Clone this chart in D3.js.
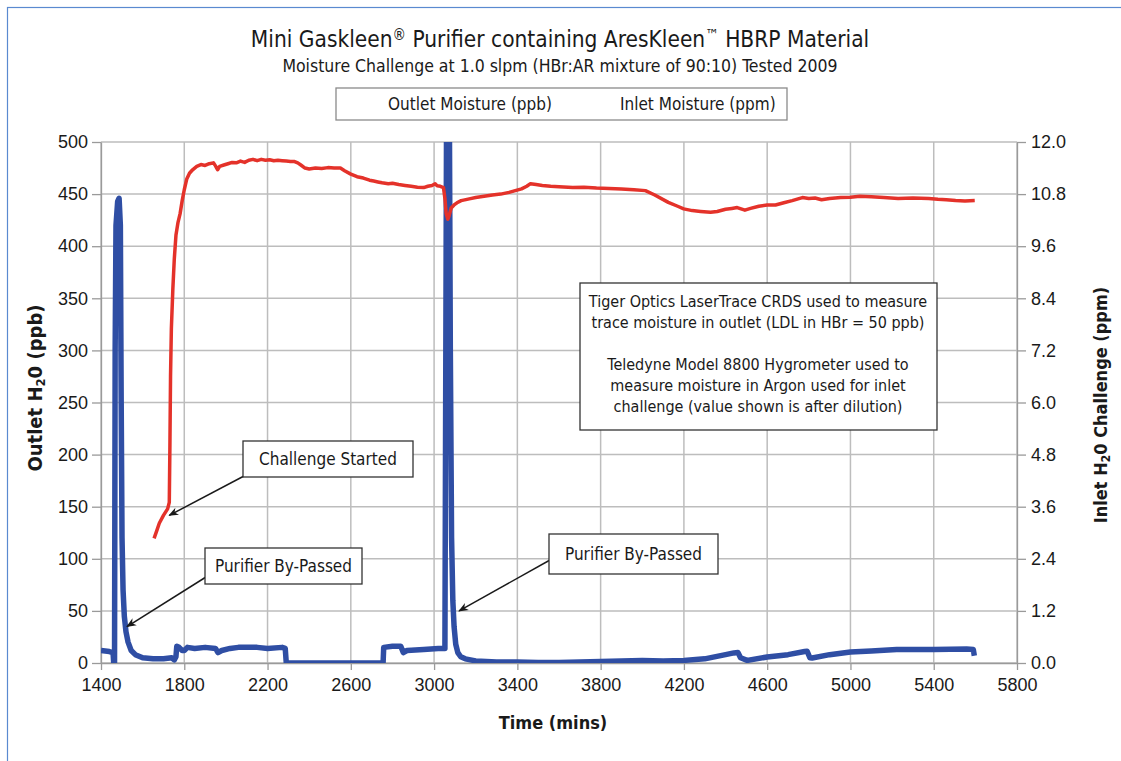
<!DOCTYPE html>
<html>
<head>
<meta charset="utf-8">
<script src="https://cdn.jsdelivr.net/npm/d3@7"></script>
<style>
  body { margin: 0; background: #fff; }
  text { font-family: "Liberation Sans Narrow", "DejaVu Sans Condensed", "Roboto Condensed", "Liberation Sans", sans-serif; fill: #1a1a1a; }
  .tick text { font-family: "Liberation Sans", Arial, sans-serif; }
</style>
</head>
<body>
<svg id="chart" width="1121" height="761"></svg>
<script>
// time (mins) for the outlet trace and the outlet moisture (ppb)
const outletTime = [1400, 1440, 1458, 1461, 1465, 1468, 1472, 1480, 1487, 1493, 1497, 1501, 1506, 1512, 1520, 1530, 1545, 1565, 1600, 1650, 1700, 1740, 1752, 1760, 1764, 1775, 1790, 1800, 1815, 1850, 1900, 1950, 1962, 1980, 2020, 2060, 2150, 2200, 2270, 2285, 2290, 2500, 2755, 2758, 2800, 2840, 2852, 2870, 2950, 3020, 3045, 3052, 3061, 3072, 3078, 3084, 3090, 3096, 3104, 3114, 3128, 3150, 3200, 3300, 3400, 3500, 3600, 3700, 3800, 3900, 4000, 4100, 4200, 4300, 4400, 4440, 4460, 4472, 4504, 4600, 4700, 4780, 4792, 4805, 4816, 4900, 5000, 5100, 5222, 5400, 5558, 5590, 5595]
const outletPpb = [12, 11, 10, 0, 0, 300, 420, 443, 446, 420, 250, 120, 70, 45, 30, 20, 12, 8, 5, 4, 4, 5, 3, 6, 16, 15, 12, 12, 15, 14, 15, 14, 10, 12, 14, 15, 15, 14, 15, 14, 0, 0, 0, 15, 16, 16, 10, 12, 13, 14, 14, 14, 600, 600, 300, 120, 60, 35, 18, 10, 6, 4, 2, 1, 1, 0.5, 0.5, 1, 1.5, 2, 2.5, 2, 2.5, 4, 8, 9.7, 10, 5, 2.5, 5.8, 8, 11, 11.3, 5, 4.8, 8, 10.6, 11.5, 12.9, 13, 13.5, 12.9, 7]

// time (mins) for the inlet trace and the inlet moisture (ppm)
const inletTime = [1655, 1668, 1680, 1700, 1720, 1728, 1731, 1734, 1738, 1745, 1752, 1760, 1770, 1780, 1790, 1800, 1812, 1825, 1840, 1860, 1880, 1900, 1920, 1940, 1950, 1960, 1970, 1990, 2010, 2030, 2050, 2070, 2090, 2110, 2130, 2150, 2170, 2190, 2210, 2230, 2250, 2270, 2290, 2310, 2330, 2345, 2360, 2380, 2400, 2430, 2460, 2490, 2520, 2550, 2570, 2600, 2630, 2660, 2690, 2710, 2730, 2750, 2780, 2800, 2830, 2860, 2890, 2920, 2950, 2970, 2990, 3005, 3015, 3030, 3045, 3052, 3058, 3066, 3072, 3082, 3096, 3110, 3130, 3169, 3200, 3240, 3280, 3320, 3360, 3390, 3420, 3445, 3463, 3490, 3520, 3560, 3600, 3666, 3720, 3780, 3840, 3900, 3960, 4015, 4060, 4125, 4170, 4199, 4240, 4280, 4328, 4360, 4400, 4430, 4456, 4493, 4520, 4560, 4600, 4640, 4680, 4720, 4769, 4800, 4830, 4861, 4900, 4953, 5000, 5045, 5100, 5160, 5229, 5300, 5376, 5420, 5460, 5505, 5550, 5597]
const inletPpm = [2.87, 3.05, 3.22, 3.40, 3.55, 3.70, 5.0, 6.6, 7.7, 8.6, 9.3, 9.85, 10.15, 10.35, 10.65, 10.9, 11.15, 11.28, 11.36, 11.44, 11.48, 11.46, 11.5, 11.52, 11.45, 11.36, 11.44, 11.47, 11.5, 11.53, 11.52, 11.56, 11.53, 11.58, 11.6, 11.57, 11.6, 11.58, 11.59, 11.57, 11.58, 11.57, 11.56, 11.55, 11.55, 11.52, 11.47, 11.40, 11.38, 11.40, 11.39, 11.41, 11.40, 11.40, 11.34, 11.26, 11.20, 11.17, 11.12, 11.10, 11.08, 11.06, 11.04, 11.05, 11.02, 11.0, 10.98, 10.96, 10.95, 10.98, 11.0, 11.04, 10.99, 10.98, 10.95, 10.7, 10.35, 10.22, 10.3, 10.48, 10.55, 10.6, 10.65, 10.69, 10.72, 10.75, 10.78, 10.8, 10.84, 10.88, 10.92, 10.98, 11.04, 11.02, 11.0, 10.98, 10.97, 10.95, 10.96, 10.94, 10.93, 10.92, 10.9, 10.88, 10.78, 10.61, 10.52, 10.46, 10.42, 10.40, 10.38, 10.40, 10.45, 10.47, 10.49, 10.43, 10.47, 10.52, 10.55, 10.55, 10.60, 10.65, 10.72, 10.70, 10.71, 10.67, 10.70, 10.72, 10.73, 10.75, 10.74, 10.72, 10.70, 10.71, 10.70, 10.68, 10.67, 10.65, 10.64, 10.65]

const xTicks = [1400, 1800, 2200, 2600, 3000, 3400, 3800, 4200, 4600, 5000, 5400, 5800]
const leftTicks = [0, 50, 100, 150, 200, 250, 300, 350, 400, 450, 500]
const rightTicks = [0, 1.2, 2.4, 3.6, 4.8, 6.0, 7.2, 8.4, 9.6, 10.8, 12.0]

const svg = d3.select('#chart')
const plot = {left: 101, right: 1017, top: 142, bottom: 663}

// figure frame (blue rule at top and left)
svg.append('rect').attr('x', 7.5).attr('y', 7.5).attr('width', 1130).attr('height', 770)
    .attr('fill', 'none').attr('stroke', '#5a8ad0').attr('stroke-width', 1.2)

const x = d3.scaleLinear().domain([1400, 5800]).range([plot.left, plot.right])
const yL = d3.scaleLinear().domain([0, 500]).range([plot.bottom, plot.top])
const yR = d3.scaleLinear().domain([0, 12]).range([plot.bottom, plot.top])

// grid
svg.append('g').selectAll('line').data(xTicks).enter().append('line')
    .attr('x1', d => x(d)).attr('x2', d => x(d)).attr('y1', plot.top).attr('y2', plot.bottom)
    .attr('stroke', '#bdbdbd').attr('stroke-width', 1.5)
svg.append('g').selectAll('line').data(leftTicks).enter().append('line')
    .attr('x1', plot.left).attr('x2', plot.right).attr('y1', d => yL(d)).attr('y2', d => yL(d))
    .attr('stroke', '#bdbdbd').attr('stroke-width', 1.5)

// axes
const styleAxis = g => {
    g.selectAll('path, line').attr('stroke', '#9a9a9a').attr('stroke-width', 1.3)
    g.selectAll('text').attr('font-size', 18).attr('fill', '#1a1a1a')
}
svg.append('g').attr('transform', `translate(${plot.left},0)`)
    .call(d3.axisLeft(yL).tickValues(leftTicks).tickSize(9).tickPadding(4).tickSizeOuter(0))
    .call(styleAxis)
svg.append('g').attr('transform', `translate(0,${plot.bottom})`)
    .call(d3.axisBottom(x).tickValues(xTicks).tickSize(7).tickPadding(8).tickSizeOuter(0).tickFormat(d3.format('d')))
    .call(styleAxis)
svg.append('g').attr('transform', `translate(${plot.right},0)`)
    .call(d3.axisRight(yR).tickValues(rightTicks).tickSize(9).tickPadding(5).tickSizeOuter(0).tickFormat(d3.format('.1f')))
    .call(styleAxis)

// clip for data lines
svg.append('clipPath').attr('id', 'clip').append('rect')
    .attr('x', plot.left).attr('y', plot.top).attr('width', plot.right - plot.left).attr('height', plot.bottom - plot.top)

const outlet = outletTime.map((t, i) => [t, outletPpb[i]])
const inlet = inletTime.map((t, i) => [t, inletPpm[i]])

svg.append('path').datum(outlet)
    .attr('clip-path', 'url(#clip)')
    .attr('fill', 'none').attr('stroke', '#2f4ea4').attr('stroke-width', 5.5)
    .attr('stroke-linejoin', 'round')
    .attr('d', d3.line().x(d => x(d[0])).y(d => yL(d[1])))

svg.append('path').datum(inlet)
    .attr('clip-path', 'url(#clip)')
    .attr('fill', 'none').attr('stroke', '#e4322a').attr('stroke-width', 3.5)
    .attr('stroke-linejoin', 'round')
    .attr('d', d3.line().x(d => x(d[0])).y(d => yR(d[1])))

// titles
const title = svg.append('text').attr('x', 560).attr('y', 47).attr('text-anchor', 'middle').attr('font-size', 22.5)
title.append('tspan').text('Mini Gaskleen')
title.append('tspan').text('®').attr('font-size', 15).attr('baseline-shift', '45%')
title.append('tspan').text(' Purifier containing AresKleen')
title.append('tspan').text('™').attr('font-size', 15).attr('baseline-shift', '45%')
title.append('tspan').text(' HBRP Material')
svg.append('text').attr('x', 560).attr('y', 72).attr('text-anchor', 'middle').attr('font-size', 17.5)
    .text('Moisture Challenge at 1.0 slpm (HBr:AR mixture of 90:10) Tested 2009')

// legend
svg.append('rect').attr('x', 336).attr('y', 88).attr('width', 451).attr('height', 32)
    .attr('fill', '#fff').attr('stroke', '#8a8a8a').attr('stroke-width', 1.3)
svg.append('text').attr('x', 388).attr('y', 110).attr('font-size', 17).text('Outlet Moisture (ppb)')
svg.append('text').attr('x', 620).attr('y', 110).attr('font-size', 17).text('Inlet Moisture (ppm)')

// axis titles
const lt = svg.append('text').attr('transform', 'translate(42,388) rotate(-90)').attr('text-anchor', 'middle')
    .attr('font-size', 20).attr('font-weight', 'bold')
lt.append('tspan').text('Outlet H')
lt.append('tspan').text('2').attr('font-size', 13).attr('baseline-shift', '-25%')
lt.append('tspan').text('0 (ppb)')
const rt = svg.append('text').attr('transform', 'translate(1107,405) rotate(-90)').attr('text-anchor', 'middle')
    .attr('font-size', 18).attr('font-weight', 'bold')
rt.append('tspan').text('Inlet H')
rt.append('tspan').text('2').attr('font-size', 12).attr('baseline-shift', '-25%')
rt.append('tspan').text('0 Challenge (ppm)')
svg.append('text').attr('x', 553).attr('y', 729).attr('text-anchor', 'middle')
    .attr('font-size', 18).attr('font-weight', 'bold').text('Time (mins)')

// annotations
svg.append('defs').append('marker').attr('id', 'arrow').attr('viewBox', '0 0 10 10')
    .attr('refX', 9).attr('refY', 5).attr('markerWidth', 10).attr('markerHeight', 10)
    .attr('orient', 'auto').attr('markerUnits', 'userSpaceOnUse')
    .append('path').attr('d', 'M0,1 L10,5 L0,9 L3,5 Z').attr('fill', '#1a1a1a')

const callouts = [
    {box: [243, 441, 170, 36], label: 'Challenge Started', from: [244, 476], to: [x(1728), yR(3.4)]},
    {box: [205, 548, 157, 36], label: 'Purifier By-Passed', from: [206, 577], to: [x(1525), yL(35)]},
    {box: [549, 534, 169, 40], label: 'Purifier By-Passed', from: [550, 560], to: [x(3120), yL(50)]}
]
callouts.forEach(c => {
    svg.append('line').attr('x1', c.from[0]).attr('y1', c.from[1]).attr('x2', c.to[0]).attr('y2', c.to[1])
        .attr('stroke', '#1a1a1a').attr('stroke-width', 1.5).attr('marker-end', 'url(#arrow)')
    svg.append('rect').attr('x', c.box[0]).attr('y', c.box[1]).attr('width', c.box[2]).attr('height', c.box[3])
        .attr('fill', '#fff').attr('stroke', '#333').attr('stroke-width', 1.3)
    svg.append('text').attr('x', c.box[0] + c.box[2] / 2).attr('y', c.box[1] + c.box[3] / 2 + 6)
        .attr('text-anchor', 'middle').attr('font-size', 17).text(c.label)
})

const note = ['Tiger Optics LaserTrace CRDS used to measure', 'trace moisture in outlet (LDL in HBr = 50 ppb)', '',
    'Teledyne Model 8800 Hygrometer used to', 'measure moisture in Argon used for inlet', 'challenge (value shown is after dilution)']
svg.append('rect').attr('x', 580).attr('y', 283).attr('width', 357).attr('height', 147)
    .attr('fill', '#fff').attr('stroke', '#333').attr('stroke-width', 1.3)
svg.append('g').selectAll('text').data(note).enter().append('text')
    .attr('x', 758).attr('y', (d, i) => 307 + i * 21).attr('text-anchor', 'middle').attr('font-size', 16)
    .text(d => d)
</script>
</body>
</html>
